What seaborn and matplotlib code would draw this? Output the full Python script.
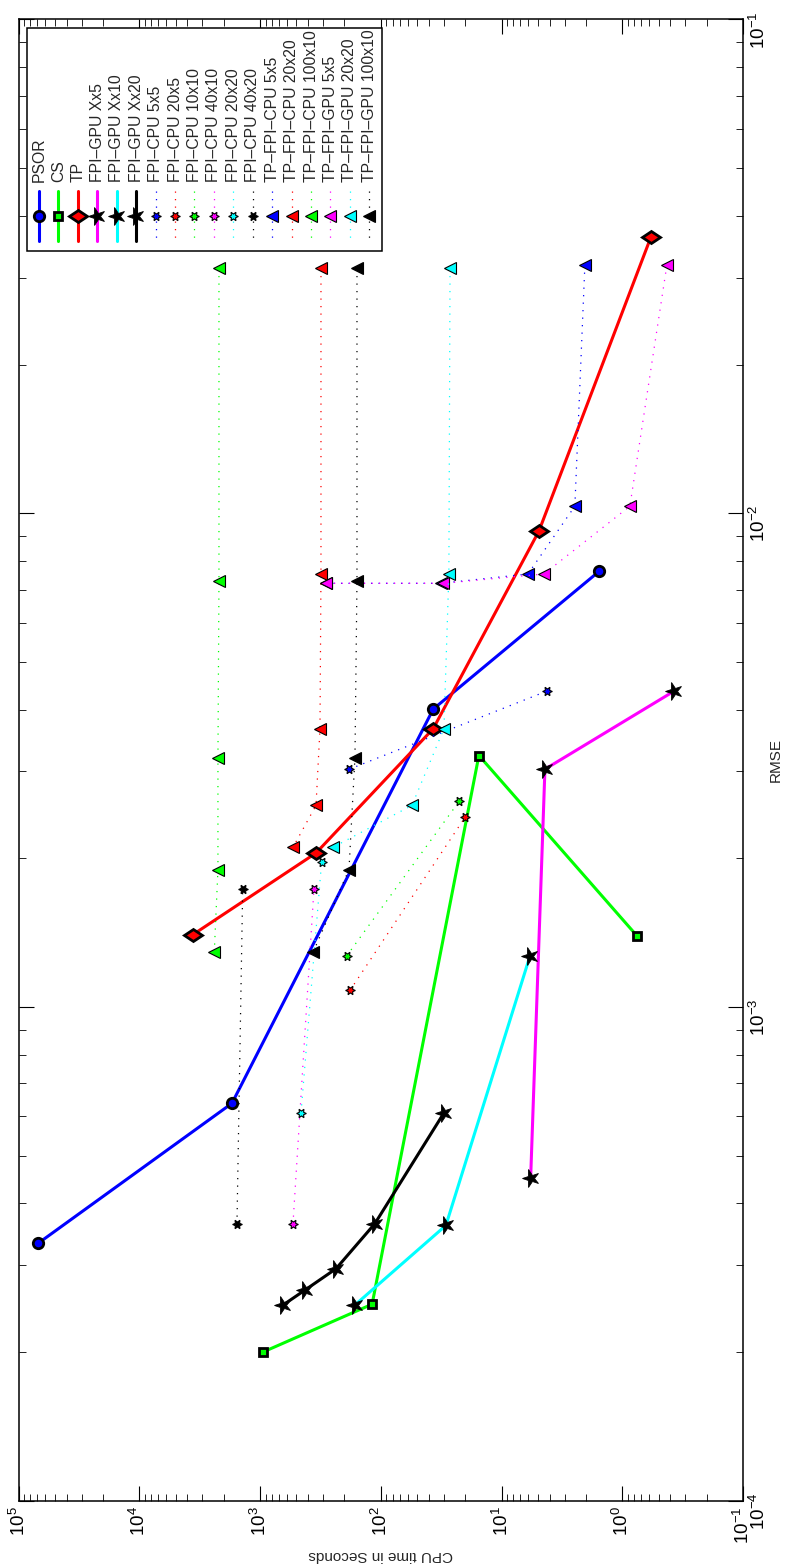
import numpy as np
import matplotlib
matplotlib.use("Agg")
import matplotlib.pyplot as plt
import seaborn as sns
from matplotlib.markers import MarkerStyle
from matplotlib.transforms import Affine2D
from matplotlib.patches import Rectangle
from matplotlib.lines import Line2D
from matplotlib.ticker import LogLocator, NullFormatter, FuncFormatter

# ---------------- data (CPU time in seconds, RMSE) ----------------
psor_cpu = [69000, 1710, 36.8, 1.55]
psor_rmse = [3.32e-4, 6.38e-4, 4.01e-3, 7.63e-3]

cs_cpu = [946, 118, 15.4, 0.75]
cs_rmse = [2.0e-4, 2.5e-4, 3.23e-3, 1.39e-3]

tp_cpu = [3614, 344, 36.8, 4.9, 0.58]
tp_rmse = [1.40e-3, 2.05e-3, 3.66e-3, 9.2e-3, 3.62e-2]

fpigpu_x5_cpu = [5.74, 4.37, 0.373]
fpigpu_x5_rmse = [4.50e-4, 3.03e-3, 4.36e-3]
fpigpu_x10_cpu = [164, 28.9, 5.82]
fpigpu_x10_rmse = [2.49e-4, 3.61e-4, 1.267e-3]
fpigpu_x20_cpu = [646, 425, 235, 112, 30.0]
fpigpu_x20_rmse = [2.49e-4, 2.67e-4, 2.95e-4, 3.64e-4, 6.10e-4]

fpicpu_5x5_cpu = [182.5, 4.23]
fpicpu_5x5_rmse = [3.03e-3, 4.36e-3]
fpicpu_20x5_cpu = [180, 20.1]
fpicpu_20x5_rmse = [1.08e-3, 2.42e-3]
fpicpu_10x10_cpu = [192, 22.4]
fpicpu_10x10_rmse = [1.268e-3, 2.61e-3]
fpicpu_40x10_cpu = [534, 358]
fpicpu_40x10_rmse = [3.63e-4, 1.73e-3]
fpicpu_20x20_cpu = [458, 309]
fpicpu_20x20_rmse = [6.10e-4, 1.97e-3]
fpicpu_40x20_cpu = [1554, 1393]
fpicpu_40x20_rmse = [3.63e-4, 1.73e-3]

tpcpu_5x5_cpu = [2.04, 2.47, 6.04, 31.8, 284]
tpcpu_5x5_rmse = [3.18e-2, 1.033e-2, 7.53e-3, 7.21e-3, 7.21e-3]
tpcpu_20x20_cpu = [313, 313, 319, 344, 534]
tpcpu_20x20_rmse = [3.13e-2, 7.54e-3, 3.66e-3, 2.56e-3, 2.105e-3]
tpcpu_100x10_cpu = [2190, 2190, 2233, 2233, 2395]
tpcpu_100x10_rmse = [3.13e-2, 7.28e-3, 3.20e-3, 1.897e-3, 1.29e-3]
tpgpu_5x5_cpu = [0.427, 0.865, 4.46, 30.6, 284]
tpgpu_5x5_rmse = [3.18e-2, 1.033e-2, 7.53e-3, 7.21e-3, 7.21e-3]
tpgpu_20x20_cpu = [26.7, 27.3, 30.0, 55.2, 249]
tpgpu_20x20_rmse = [3.13e-2, 7.54e-3, 3.66e-3, 2.56e-3, 2.105e-3]
tpgpu_100x10_cpu = [157.5, 157.5, 163.7, 183.5, 364]
tpgpu_100x10_rmse = [3.13e-2, 7.28e-3, 3.20e-3, 1.897e-3, 1.29e-3]

labels = ["PSOR", "CS", "TP",
          "FPI\u2013GPU Xx5", "FPI\u2013GPU Xx10", "FPI\u2013GPU Xx20",
          "FPI\u2013CPU 5x5", "FPI\u2013CPU 20x5", "FPI\u2013CPU 10x10",
          "FPI\u2013CPU 40x10", "FPI\u2013CPU 20x20", "FPI\u2013CPU 40x20",
          "TP\u2013FPI\u2013CPU 5x5", "TP\u2013FPI\u2013CPU 20x20", "TP\u2013FPI\u2013CPU 100x10",
          "TP\u2013FPI\u2013GPU 5x5", "TP\u2013FPI\u2013GPU 20x20", "TP\u2013FPI\u2013GPU 100x10"]

series = [
    (psor_cpu, psor_rmse), (cs_cpu, cs_rmse), (tp_cpu, tp_rmse),
    (fpigpu_x5_cpu, fpigpu_x5_rmse), (fpigpu_x10_cpu, fpigpu_x10_rmse), (fpigpu_x20_cpu, fpigpu_x20_rmse),
    (fpicpu_5x5_cpu, fpicpu_5x5_rmse), (fpicpu_20x5_cpu, fpicpu_20x5_rmse), (fpicpu_10x10_cpu, fpicpu_10x10_rmse),
    (fpicpu_40x10_cpu, fpicpu_40x10_rmse), (fpicpu_20x20_cpu, fpicpu_20x20_rmse), (fpicpu_40x20_cpu, fpicpu_40x20_rmse),
    (tpcpu_5x5_cpu, tpcpu_5x5_rmse), (tpcpu_20x20_cpu, tpcpu_20x20_rmse), (tpcpu_100x10_cpu, tpcpu_100x10_rmse),
    (tpgpu_5x5_cpu, tpgpu_5x5_rmse), (tpgpu_20x20_cpu, tpgpu_20x20_rmse), (tpgpu_100x10_cpu, tpgpu_100x10_rmse),
]

# ---------------- styles ----------------
B, G, R, M, C, K = (0, 0, 1), (0, 1, 0), (1, 0, 0), (1, 0, 1), (0, 1, 1), (0, 0, 0)
DOT = (0, (1, 5))
star = MarkerStyle("*", transform=Affine2D().rotate_deg(90))
hexa = MarkerStyle((6, 1, 90))
diam = MarkerStyle("D", transform=Affine2D().scale(1.4, 1.0))
tri = MarkerStyle("<")

styles = [
    dict(color=B, ls="-", lw=2.2, marker="o", ms=7.5, mfc=B, mew=2.0),
    dict(color=G, ls="-", lw=2.2, marker="s", ms=5.5, mfc=G, mew=2.0),
    dict(color=R, ls="-", lw=2.2, marker=diam, ms=6.5, mfc=R, mew=2.0),
    dict(color=M, ls="-", lw=2.2, marker=star, ms=13, mfc=K, mew=0.6),
    dict(color=C, ls="-", lw=2.2, marker=star, ms=13, mfc=K, mew=0.6),
    dict(color=K, ls="-", lw=2.2, marker=star, ms=13, mfc=K, mew=0.6),
]
for c in [B, R, G, M, C, K]:
    styles.append(dict(color=c, ls=DOT, lw=0.9, marker=hexa, ms=7, mfc=c, mew=0.8))
for c in [B, R, G, M, C, K]:
    styles.append(dict(color=c, ls=DOT, lw=0.9, marker=tri, ms=8.5, mfc=c, mew=0.8))

# ---------------- figure ----------------
sns.set_style("white")
plt.rcParams["font.family"] = ["Liberation Sans", "DejaVu Sans"]
plt.rcParams["mathtext.fontset"] = "custom"
plt.rcParams["mathtext.rm"] = "Liberation Sans"
plt.rcParams["mathtext.it"] = "Liberation Sans:italic"
plt.rcParams["mathtext.bf"] = "Liberation Sans:bold"

W, H = 790, 1568
fig = plt.figure(figsize=(W / 100, H / 100), dpi=100)
fig.patch.set_facecolor("white")
ax_l, ax_r, ax_t, ax_b = 18.6, 743.0, 19.4, 1500.7
ax = fig.add_axes([ax_l / W, 1 - ax_b / H, (ax_r - ax_l) / W, (ax_b - ax_t) / H])
ax.set_xscale("log")
ax.set_yscale("log")

for (cpu, rmse), st in zip(series, styles):
    sns.lineplot(x=np.array(cpu, dtype=float), y=np.array(rmse, dtype=float), ax=ax,
                 sort=False, estimator=None, legend=False,
                 color=st["color"], linestyle=st["ls"], linewidth=st["lw"],
                 marker=st["marker"], markersize=st["ms"], markerfacecolor=st["mfc"],
                 markeredgecolor="k", markeredgewidth=st["mew"])

ax.set_xlim(1e5, 1e-1)
ax.set_ylim(1e-4, 1e-1)

pow_fmt = FuncFormatter(lambda v, p: r"$\mathregular{10^{%d}}$" % int(round(np.log10(v))))
for axis in (ax.xaxis, ax.yaxis):
    axis.set_major_locator(LogLocator(base=10, numticks=20))
    axis.set_minor_locator(LogLocator(base=10, subs=np.arange(2, 10), numticks=20))
    axis.set_major_formatter(pow_fmt)
    axis.set_minor_formatter(NullFormatter())

ax.tick_params(which="both", direction="in", top=True, bottom=True, left=True, right=True,
               labelbottom=True, labeltop=False, labelleft=False, labelright=True,
               colors="k")
ax.tick_params(which="major", length=10.5, width=0.8, labelsize=13.5)
ax.tick_params(which="minor", length=5, width=0.6)
ax.tick_params(axis="x", which="major", labelrotation=90, pad=4)
ax.tick_params(axis="y", which="major", labelrotation=90, pad=4)
for sp in ax.spines.values():
    sp.set_linewidth(1.1)
    sp.set_color("k")

ax.yaxis.set_label_position("right")
ax.set_ylabel("RMSE", rotation=90, fontsize=11, labelpad=0)
ax.set_xlabel("CPU time in Seconds", rotation=180, fontsize=11, labelpad=3)

# ---------------- custom (rotated) legend ----------------
aw, ah = ax_r - ax_l, ax_b - ax_t
fx = lambda px: (px - ax_l) / aw
fy = lambda py: 1 - (py - ax_t) / ah

ax.add_patch(Rectangle((fx(27), fy(251)), fx(382) - fx(27), fy(27.7) - fy(251),
                       transform=ax.transAxes, facecolor="white", edgecolor="k",
                       linewidth=1.1, zorder=20, clip_on=False))
for i, (lab, st) in enumerate(zip(labels, styles)):
    cx = 39.0 + 19.43 * i
    ax.add_line(Line2D([fx(cx), fx(cx)], [fy(190.7), fy(240.7)], transform=ax.transAxes,
                       color=st["color"], linestyle=st["ls"], linewidth=st["lw"],
                       zorder=21, clip_on=False))
    ax.add_line(Line2D([fx(cx)], [fy(216)], transform=ax.transAxes, linestyle="none",
                       marker=st["marker"], markersize=st["ms"], markerfacecolor=st["mfc"],
                       markeredgecolor="k", markeredgewidth=st["mew"], zorder=22, clip_on=False))
    ax.text(fx(cx), fy(182), lab, rotation=90, ha="center", va="bottom",
            fontsize=11.3, transform=ax.transAxes, zorder=23)

fig.savefig("out.png", dpi=100, facecolor="white")
